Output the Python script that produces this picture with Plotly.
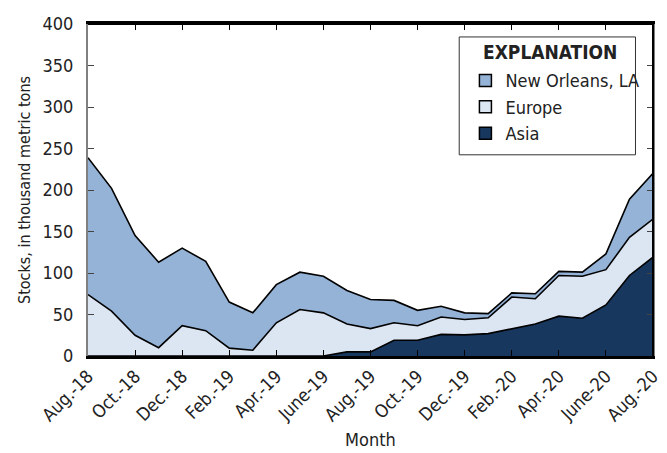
import plotly.graph_objects as go

months = ["Aug.-18","Sep.-18","Oct.-18","Nov.-18","Dec.-18","Jan.-19","Feb.-19","Mar.-19","Apr.-19","May-19",
          "June-19","July-19","Aug.-19","Sep.-19","Oct.-19","Nov.-19","Dec.-19","Jan.-20","Feb.-20","Mar.-20",
          "Apr.-20","May-20","June-20","July-20","Aug.-20"]
asia = [0,0,0,0,0,0,0,0,0,0,0,5,5,19,19,26,25.5,27,32.5,38.5,48,45.5,61.5,97,119]
europe_top = [74,54,25,10,36.5,30.5,9.5,7,40,56,52,38.5,33,40,36.5,47,44,46,71,69,97,96,104,143,165]
total = [239,202,145,113,130,114,65,52,86,101,96,79,68,67,55,60,52,51,76,75,102,101,123,189,220]
europe = [round(e - a, 1) for e, a in zip(europe_top, asia)]
new_orleans = [round(t - e, 1) for t, e in zip(total, europe_top)]

x = list(range(len(months)))
tickvals = x[::2]
ticktext = months[::2]

FONT = "DejaVu Sans Condensed, Liberation Sans Narrow, Arial Narrow, Liberation Sans, sans-serif"

fig = go.Figure()
series = [("Asia", asia, "#17375e"), ("Europe", europe, "#dce6f2"), ("New Orleans, LA", new_orleans, "#95b3d7")]
for name, vals, col in series:
    fig.add_trace(go.Scatter(x=x, y=vals, name=name, mode="lines", stackgroup="one",
                             fillcolor=col, line=dict(color="black", width=1.6),
                             showlegend=False))
# legend-only square swatches
for name, vals, col in series:
    fig.add_trace(go.Scatter(x=[None], y=[None], name=name, mode="markers",
                             marker=dict(symbol="square", size=12, color=col,
                                         line=dict(color="black", width=1.5))))

fig.update_layout(
    width=659, height=445,
    margin=dict(l=80, r=5, t=13, b=96),
    plot_bgcolor="white", paper_bgcolor="white",
    font=dict(family=FONT, size=18, color="#222"),
    showlegend=True,
    legend=dict(x=0.668, y=0.885, xanchor="left", yanchor="top", traceorder="reversed",
                bgcolor="rgba(0,0,0,0)", borderwidth=0,
                font=dict(size=18), itemwidth=30, tracegroupgap=0),
    xaxis=dict(range=[0, 24], tickvals=tickvals, ticktext=ticktext, tickangle=-45,
               ticklabeloverflow="allow",
               showline=True, linecolor="black", linewidth=2.5, mirror="ticks",
               ticks="inside", ticklen=6, tickcolor="black",
               showgrid=False, zeroline=False,
               title=dict(text="Month", font=dict(size=18), standoff=10)),
    yaxis=dict(range=[0, 400], dtick=50, showline=True, linecolor="#808080", linewidth=2,
               mirror="ticks", ticks="inside", ticklen=6, tickcolor="#444",
               ticklabelstandoff=9,
               showgrid=False, zeroline=False,
               title=dict(text="Stocks, in thousand metric tons", font=dict(size=16), standoff=8)),
    annotations=[dict(text="<b>EXPLANATION</b>", xref="paper", yref="paper",
                      x=0.695, y=0.955, xanchor="left", yanchor="top", showarrow=False,
                      font=dict(size=19, color="#222"))],
)
# legend box
fig.add_shape(type="rect", xref="paper", yref="paper", x0=0.657, x1=0.969, y0=0.606, y1=0.961,
              line=dict(color="#333", width=1), layer="above")
# top and right frame lines
fig.add_shape(type="line", xref="paper", yref="paper", x0=0, x1=1, y0=1, y1=1,
              line=dict(color="black", width=2))
fig.add_shape(type="line", xref="paper", yref="paper", x0=1, x1=1, y0=0, y1=1,
              line=dict(color="black", width=2))

fig.write_html("out.html")
